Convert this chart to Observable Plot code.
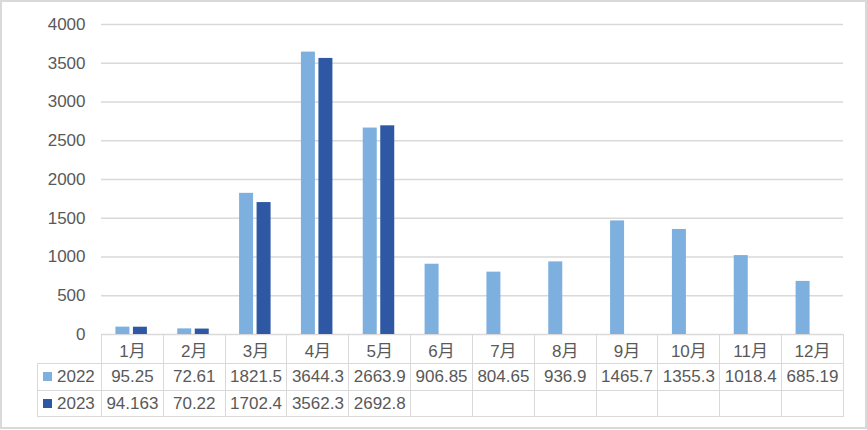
<!DOCTYPE html>
<html><head><meta charset="utf-8">
<script src="https://cdn.jsdelivr.net/npm/d3@7"></script>
<script src="https://cdn.jsdelivr.net/npm/@observablehq/plot@0.6"></script>
<style>
html,body{margin:0;padding:0;background:#fff;}
#wrap{position:relative;width:867px;height:430px;overflow:hidden;font-family:"Liberation Sans","Noto Sans CJK SC",sans-serif;color:#595959;}
#frame{position:absolute;left:0;top:0;width:863px;height:425px;border:2px solid #d9d9d9;pointer-events:none;}
#chart{position:absolute;left:0;top:0;}
#tbl{position:absolute;border-collapse:collapse;table-layout:fixed;font-size:17px;color:#595959;}
#tbl td{border:1.5px solid #d9d9d9;text-align:center;padding:0;white-space:nowrap;overflow:visible;}
#tbl td.empty{border-left:none;border-top:none;}
#tbl td.leg{text-align:left;padding-left:5px;}
.key{display:inline-block;width:9px;height:9px;margin-right:5px;vertical-align:1px;}
</style></head>
<body>
<div id="wrap"><div id="chart"></div><table id="tbl"></table><div id="frame"></div></div>
<script>
const months = ["1月","2月","3月","4月","5月","6月","7月","8月","9月","10月","11月","12月"];
const series = ["2022","2023"];
const values2022 = [95.25, 72.61, 1821.5, 3644.3, 2663.9, 906.85, 804.65, 936.9, 1465.7, 1355.3, 1018.4, 685.19];
const values2023 = [94.163, 70.22, 1702.4, 3562.3, 2692.8];
const labels2022 = ["95.25","72.61","1821.5","3644.3","2663.9","906.85","804.65","936.9","1465.7","1355.3","1018.4","685.19"];
const labels2023 = ["94.163","70.22","1702.4","3562.3","2692.8"];
const yTicks = [0,500,1000,1500,2000,2500,3000,3500,4000];
const colors = ["#7eb0df","#2f58a4"];

const d2022 = values2022.map((v,i)=>({month:months[i], value:v}));
const d2023 = values2023.map((v,i)=>({month:months[i], value:v}));

const W = 867, mL = 101, mR = 24;
const bw = (W - mL - mR) / months.length;
const c = bw / 2;

const chart = Plot.plot({
  width: W, height: 356,
  marginLeft: mL, marginRight: mR, marginTop: 24, marginBottom: 22,
  style: {fontFamily: '"Liberation Sans","Noto Sans CJK SC",sans-serif', fontSize: "17px", color: "#595959", background: "transparent", overflow: "visible"},
  x: {domain: months, padding: 0, round: false, axis: null},
  y: {domain: [0,4000], ticks: yTicks, label: null},
  marks: [
    Plot.ruleY(yTicks, {stroke: "#d9d9d9", strokeWidth: 1.5}),
    Plot.axisY({ticks: yTicks, tickSize: 0, tickPadding: 16, tickFormat: d => String(d), label: null, fill: "#595959"}),
    Plot.barY(d2022, {x: "month", y: "value", fill: colors[0], insetLeft: c - 16.5, insetRight: bw - (c - 2.5)}),
    Plot.barY(d2023, {x: "month", y: "value", fill: colors[1], insetLeft: c + 1, insetRight: bw - (c + 15)})
  ]
});
document.getElementById("chart").appendChild(chart);

// data table below the plot, columns aligned to the x scale
const xs = chart.scale("x");
const tbl = document.getElementById("tbl");
const legW = 64;
tbl.style.left = (xs.range[0] - legW) + "px";
tbl.style.top = "334px";
tbl.style.width = (legW + xs.bandwidth * months.length) + "px";
const cg = document.createElement("colgroup");
const col0 = document.createElement("col"); col0.style.width = legW + "px"; cg.appendChild(col0);
months.forEach(()=>{const cc=document.createElement("col"); cc.style.width = xs.bandwidth + "px"; cg.appendChild(cc);});
tbl.appendChild(cg);
function row(h, cells){const tr=document.createElement("tr"); tr.style.height=h+"px"; cells.forEach(c=>tr.appendChild(c)); tbl.appendChild(tr);}
function td(text, cls){const t=document.createElement("td"); if(cls) t.className=cls; if(text!=null) t.textContent=text; return t;}
row(29, [td(null,"empty"), ...months.map(m=>td(m))]);
[labels2022, labels2023].forEach((labs, si)=>{
  const lead = td(null,"leg");
  const k = document.createElement("span"); k.className="key"; k.style.background = colors[si];
  lead.appendChild(k); lead.appendChild(document.createTextNode(series[si]));
  row(si===0?27:26, [lead, ...months.map((m,i)=>td(labs[i] ?? ""))]);
});
</script>
</body></html>
